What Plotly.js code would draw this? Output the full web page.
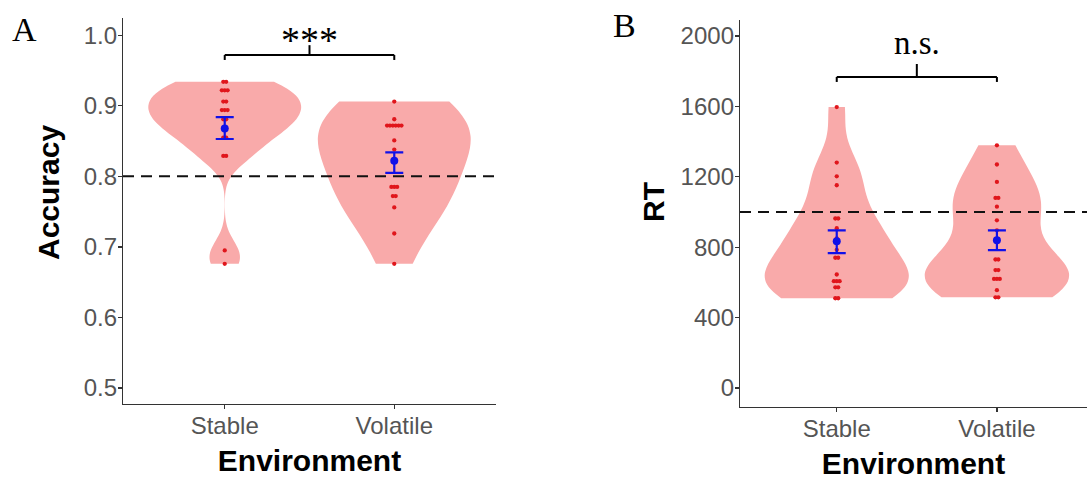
<!DOCTYPE html>
<html><head><meta charset="utf-8">
<script src="https://cdn.plot.ly/plotly-3.0.1.min.js"></script>
<style>html,body{margin:0;padding:0;background:#fff}#chart{width:1087px;height:482px}</style>
</head><body><div id="chart"></div>
<script>
// ---------- data ----------
const categories = ['Stable', 'Volatile'];

// Panel A: accuracy dot levels and how many dots sit at each level
const accStableVals   = [0.934, 0.922, 0.906, 0.894, 0.881, 0.868, 0.855, 0.829, 0.695, 0.676];
const accStableCounts = [2, 3, 2, 3, 2, 2, 2, 2, 1, 1];
const accVolatileVals   = [0.906, 0.881, 0.872, 0.851, 0.838, 0.785, 0.772, 0.756, 0.719, 0.676];
const accVolatileCounts = [1, 1, 6, 1, 1, 3, 2, 1, 1, 1];
const accMean  = [0.868, 0.822];
const accUpper = [0.884, 0.834];
const accLower = [0.853, 0.805];
const accTicks = [0.5, 0.6, 0.7, 0.8, 0.9, 1.0];
const accTickText = ['0.5', '0.6', '0.7', '0.8', '0.9', '1.0'];
const accReference = [0.8];

// Panel B: RT dot levels and counts
const rtStableVals   = [1596, 1281, 1203, 1152, 963, 908, 850, 785, 740, 645, 607, 572, 510];
const rtStableCounts = [1, 1, 1, 1, 2, 1, 1, 1, 2, 1, 3, 2, 2];
const rtVolatileVals   = [1379, 1270, 1171, 1080, 1030, 953, 896, 730, 670, 620, 556, 515];
const rtVolatileCounts = [1, 1, 1, 2, 1, 1, 1, 2, 2, 3, 1, 2];
const rtMean  = [834, 840];
const rtUpper = [896, 896];
const rtLower = [766, 783];
const rtTicks = [0, 400, 800, 1200, 1600, 2000];
const rtReference = [1000];

// significance brackets: bracket level, end drop level, centre tick top
const sigA = {text: '***', level: 0.972, drop: 0.965, top: 0.986};
const sigB = {text: 'n.s.', level: 1767, drop: 1739, top: 1841};

// kernel bandwidth adjustment per violin (as ggplot's "adjust")
const bwAdjust = {accStable: 1.0, accVolatile: 1.55, rtStable: 1.0, rtVolatile: 1.0};

// ---------- helpers ----------
function expand(vals, counts) {
  const out = [];
  vals.forEach((v, i) => { for (let k = 0; k < counts[i]; k++) out.push(v); });
  return out;
}
function quantile(sorted, p) {
  const h = (sorted.length - 1) * p, lo = Math.floor(h), hi = Math.ceil(h);
  return sorted[lo] + (h - lo) * (sorted[hi] - sorted[lo]);
}
function bwNrd0(v) { // R's default bandwidth (as ggplot uses)
  const n = v.length, m = v.reduce((a, b) => a + b, 0) / n;
  const sd = Math.sqrt(v.reduce((a, b) => a + (b - m) * (b - m), 0) / (n - 1));
  const s = v.slice().sort((a, b) => a - b);
  const iqr = quantile(s, 0.75) - quantile(s, 0.25);
  return 0.9 * Math.min(sd, iqr / 1.34) * Math.pow(n, -0.2);
}
const FILL = '#F9AAAA';
const DOT = '#E0161C';
const BLUE = '#1010E8';

function violin(vals, counts, pos, xa, ya, adj) {
  const data = expand(vals, counts);
  return {
    type: 'violin', x: data.map(() => pos), y: data, xaxis: xa, yaxis: ya,
    spanmode: 'hard', bandwidth: bwNrd0(data) * adj, width: 0.9, scalemode: 'width',
    points: false, box: {visible: false}, meanline: {visible: false},
    line: {width: 0, color: FILL}, fillcolor: FILL, opacity: 1,
    hoverinfo: 'skip', showlegend: false, orientation: 'v'
  };
}
function dots(vals, counts, pos, xa, ya, step) {
  const xs = [], ys = [];
  vals.forEach((v, i) => {
    const c = counts[i];
    for (let k = 0; k < c; k++) { xs.push(pos + (k - (c - 1) / 2) * step); ys.push(v); }
  });
  return {type: 'scatter', mode: 'markers', x: xs, y: ys, xaxis: xa, yaxis: ya,
    marker: {size: 4.3, color: DOT}, hoverinfo: 'skip', showlegend: false};
}
function meanSe(mean, up, lo, xa, ya) {
  return {type: 'scatter', mode: 'markers', x: [0, 1], y: mean, xaxis: xa, yaxis: ya,
    marker: {size: 8, color: BLUE},
    error_y: {type: 'data', symmetric: false,
      array: up.map((u, i) => u - mean[i]), arrayminus: lo.map((l, i) => mean[i] - l),
      color: BLUE, thickness: 2.2, width: 9},
    hoverinfo: 'skip', showlegend: false};
}

const traces = [
  violin(accStableVals, accStableCounts, 0, 'x', 'y', bwAdjust.accStable),
  violin(accVolatileVals, accVolatileCounts, 1, 'x', 'y', bwAdjust.accVolatile),
  violin(rtStableVals, rtStableCounts, 0, 'x2', 'y2', bwAdjust.rtStable),
  violin(rtVolatileVals, rtVolatileCounts, 1, 'x2', 'y2', bwAdjust.rtVolatile),
  dots(accStableVals, accStableCounts, 0, 'x', 'y', 0.017),
  dots(accVolatileVals, accVolatileCounts, 1, 'x', 'y', 0.017),
  dots(rtStableVals, rtStableCounts, 0, 'x2', 'y2', 0.018),
  dots(rtVolatileVals, rtVolatileCounts, 1, 'x2', 'y2', 0.018),
  meanSe(accMean, accUpper, accLower, 'x', 'y'),
  meanSe(rtMean, rtUpper, rtLower, 'x2', 'y2')
];

const tickFont = {family: 'Liberation Sans, Arial, sans-serif', size: 24, color: '#555'};
const titleFont = {family: 'Liberation Sans, Arial, sans-serif', size: 30, color: '#000'};
const axisCommon = {
  showline: true, linecolor: '#333', linewidth: 1.2, ticks: 'outside', ticklen: 4,
  tickcolor: '#333', tickwidth: 1.2, showgrid: false, zeroline: false, tickfont: tickFont,
  fixedrange: true, ticklabelstandoff: -4
};

function bracketShapes(sig, xr, yr) {
  const l = {color: '#000', width: 2};
  return [
    {type: 'line', xref: xr, yref: yr, x0: 0, x1: 1, y0: sig.level, y1: sig.level, line: l},
    {type: 'line', xref: xr, yref: yr, x0: 0, x1: 0, y0: sig.level, y1: sig.drop, line: l},
    {type: 'line', xref: xr, yref: yr, x0: 1, x1: 1, y0: sig.level, y1: sig.drop, line: l},
    {type: 'line', xref: xr, yref: yr, x0: 0.5, x1: 0.5, y0: sig.level, y1: sig.top, line: l}
  ];
}
const dashLine = {color: '#111', width: 2, dash: '11px,7px'};

const layout = {
  width: 1087, height: 482, margin: {l: 0, r: 0, t: 0, b: 0},
  paper_bgcolor: '#fff', plot_bgcolor: '#fff', showlegend: false, violinmode: 'overlay',
  xaxis: Object.assign({}, axisCommon, {domain: [123 / 1087, 496 / 1087], range: [-0.6, 1.6],
    tickvals: [0, 1], ticktext: categories, anchor: 'y',
    title: {text: '<b>Environment</b>', font: titleFont, standoff: 12}}),
  yaxis: Object.assign({}, axisCommon, {domain: [78 / 482, 464 / 482], range: [0.4773, 1.0245],
    tickvals: accTicks, ticktext: accTickText, anchor: 'x'}),
  xaxis2: Object.assign({}, axisCommon, {domain: [740 / 1087, 1], range: [-0.604, 1.5625],
    tickvals: [0, 1], ticktext: categories, anchor: 'y2',
    title: {text: '<b>Environment</b>', font: titleFont, standoff: 12}}),
  yaxis2: Object.assign({}, axisCommon, {domain: [75 / 482, 462 / 482], range: [-108, 2091],
    tickvals: rtTicks, anchor: 'x2'}),
  shapes: [
    {type: 'line', xref: 'x domain', yref: 'y', x0: 0, x1: 1, y0: accReference[0], y1: accReference[0], line: dashLine},
    {type: 'line', xref: 'x2 domain', yref: 'y2', x0: 0, x1: 1, y0: rtReference[0], y1: rtReference[0], line: dashLine}
  ].concat(bracketShapes(sigA, 'x', 'y'), bracketShapes(sigB, 'x2', 'y2')),
  annotations: [
    {text: 'A', xref: 'paper', yref: 'paper', x: 10 / 1087, y: 1 - 29 / 482, xanchor: 'left', yanchor: 'middle',
      showarrow: false, font: {family: 'Liberation Serif, Times New Roman, serif', size: 34, color: '#000'}},
    {text: 'B', xref: 'paper', yref: 'paper', x: 611 / 1087, y: 1 - 25 / 482, xanchor: 'left', yanchor: 'middle',
      showarrow: false, font: {family: 'Liberation Serif, Times New Roman, serif', size: 34, color: '#000'}},
    {text: sigA.text, xref: 'x', yref: 'y', x: 0.5, y: sigA.top, xanchor: 'center', yanchor: 'bottom', yshift: -18,
      showarrow: false, font: {family: 'Liberation Serif, Times New Roman, serif', size: 38, color: '#000'}},
    {text: sigB.text, xref: 'x2', yref: 'y2', x: 0.5, y: sigB.top, xanchor: 'center', yanchor: 'bottom', yshift: 1,
      showarrow: false, font: {family: 'Liberation Serif, Times New Roman, serif', size: 33, color: '#000'}},
    {text: '<b>Accuracy</b>', xref: 'paper', yref: 'paper', x: 48 / 1087, y: 1 - 193 / 482, textangle: -90,
      xanchor: 'center', yanchor: 'middle', showarrow: false, font: titleFont},
    {text: '<b>RT</b>', xref: 'paper', yref: 'paper', x: 653 / 1087, y: 1 - 202 / 482, textangle: -90,
      xanchor: 'center', yanchor: 'middle', showarrow: false, font: titleFont}
  ]
};

Plotly.newPlot('chart', traces, layout, {staticPlot: true, displayModeBar: false});
</script>
</body></html>
